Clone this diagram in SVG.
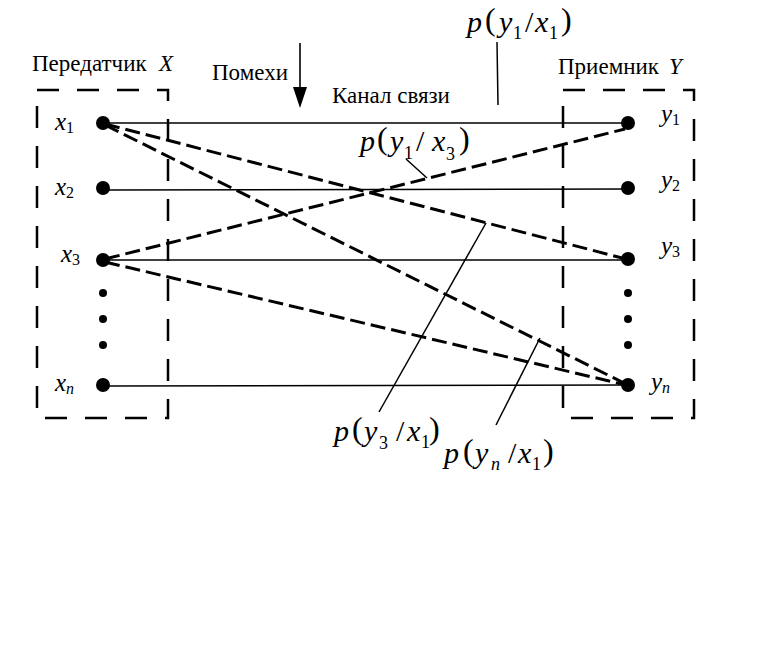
<svg xmlns="http://www.w3.org/2000/svg" width="775" height="645" viewBox="0 0 775 645">
<style>
.t{font-family:"Liberation Serif",serif;font-size:23px;fill:#000}
.i{font-style:italic}
.m{font-family:"Liberation Serif",serif;font-size:30px;fill:#000}
.par{font-family:"Liberation Serif",serif;font-size:32px;fill:#000}
.sub{font-family:"Liberation Serif",serif;font-size:18px;fill:#000}
.nl{font-family:"Liberation Serif",serif;font-size:25px;font-style:italic;fill:#000}
.ns{font-family:"Liberation Serif",serif;font-size:16px;fill:#000}
.box{fill:none;stroke:#000;stroke-width:2.5;stroke-dasharray:22 18}
.solid{stroke:#000;stroke-width:1.6;fill:none}
.dash{stroke:#000;stroke-width:3;stroke-dasharray:15 6;fill:none}
.lead{stroke:#000;stroke-width:1.5;fill:none}
</style>
<rect width="775" height="645" fill="#fff"/>
<g id="transmitter">
<rect class="box" x="37" y="90" width="131" height="328"/>
<text class="t" x="32" y="71">Передатчик<tspan class="i" x="159">X</tspan></text>
</g>
<g id="receiver">
<rect class="box" x="563" y="90" width="131" height="328"/>
<text class="t" x="558" y="74">Приемник<tspan class="i" x="669">Y</tspan></text>
</g>
<g id="noise">
<text class="t" x="212" y="80">Помехи</text>
<line x1="300" y1="43" x2="300" y2="90" class="solid"/>
<polygon points="293,87 307,87 300,108" fill="#000"/>
</g>
<g id="channel-label">
<text class="t" x="332" y="103">Канал связи</text>
</g>
<g id="connectors">
<line class="solid" x1="103" y1="123" x2="628" y2="123"/>
<line class="solid" x1="103" y1="190" x2="628" y2="189"/>
<line class="solid" x1="103" y1="260" x2="628" y2="260"/>
<line class="solid" x1="103" y1="386" x2="628" y2="385"/>
<line class="dash" x1="105" y1="124" x2="626" y2="259"/>
<line class="dash" x1="105" y1="125" x2="626" y2="384"/>
<line class="dash" x1="105" y1="259" x2="625" y2="129"/>
<line class="dash" x1="105" y1="262" x2="626" y2="385"/>
<line class="lead" x1="497" y1="42" x2="498" y2="105"/>
<line class="lead" x1="406" y1="159" x2="427" y2="178"/>
<line class="lead" x1="486" y1="223" x2="379" y2="412"/>
<line class="lead" x1="540" y1="338" x2="496" y2="425"/>
</g>
<g id="x-nodes">
<circle cx="103" cy="123" r="7"/>
<circle cx="103" cy="188" r="7"/>
<circle cx="103" cy="260" r="7"/>
<circle cx="103" cy="293" r="4"/>
<circle cx="103" cy="319" r="4"/>
<circle cx="103" cy="345" r="4"/>
<circle cx="103" cy="385" r="7"/>
<text class="nl" x="55" y="130">x<tspan class="ns" font-style="normal" dy="3">1</tspan></text>
<text class="nl" x="55" y="195">x<tspan class="ns" font-style="normal" dy="3">2</tspan></text>
<text class="nl" x="61" y="262">x<tspan class="ns" font-style="normal" dy="3">3</tspan></text>
<text class="nl" x="55" y="391">x<tspan class="ns" dy="3">n</tspan></text>
</g>
<g id="y-nodes">
<circle cx="628" cy="123" r="7"/>
<circle cx="628" cy="188" r="7"/>
<circle cx="628" cy="259" r="7"/>
<circle cx="628" cy="293" r="4"/>
<circle cx="628" cy="319" r="4"/>
<circle cx="628" cy="345" r="4"/>
<circle cx="628" cy="385" r="7"/>
<text class="nl" x="661" y="122">y<tspan class="ns" font-style="normal" dy="3">1</tspan></text>
<text class="nl" x="661" y="188">y<tspan class="ns" font-style="normal" dy="3">2</tspan></text>
<text class="nl" x="661" y="254">y<tspan class="ns" font-style="normal" dy="3">3</tspan></text>
<text class="nl" x="651" y="390">y<tspan class="ns" dy="3">n</tspan></text>
</g>
<g id="label-p-y1-x1">
<text class="m i" x="467" y="32">p</text>
<text class="par" x="485" y="30">(</text>
<text class="m i" x="499" y="32">y</text>
<text class="sub" x="513" y="39">1</text>
<text class="m" x="525" y="32">/</text>
<text class="m i" x="535" y="32">x</text>
<text class="sub" x="549" y="39">1</text>
<text class="par" x="561" y="30">)</text>
</g>
<g id="label-p-y1-x3">
<text class="m i" x="360" y="151">p</text>
<text class="par" x="377" y="149">(</text>
<text class="m i" x="390" y="151">y</text>
<text class="sub" x="404" y="159">1</text>
<text class="m" x="416" y="151">/</text>
<text class="m i" x="432" y="151">x</text>
<text class="sub" x="446" y="160">3</text>
<text class="par" x="459" y="149">)</text>
</g>
<g id="label-p-y3-x1">
<text class="m i" x="334" y="441">p</text>
<text class="par" x="352" y="439">(</text>
<text class="m i" x="364" y="441">y</text>
<text class="sub" x="379" y="449">3</text>
<text class="m" x="396" y="441">/</text>
<text class="m i" x="407" y="441">x</text>
<text class="sub" x="421" y="448">1</text>
<text class="par" x="429" y="439">)</text>
</g>
<g id="label-p-yn-x1">
<text class="m i" x="444" y="463">p</text>
<text class="par" x="463" y="461">(</text>
<text class="m i" x="475" y="463">y</text>
<text class="sub i" x="491" y="470">n</text>
<text class="m" x="508" y="463">/</text>
<text class="m i" x="518" y="463">x</text>
<text class="sub" x="532" y="470">1</text>
<text class="par" x="543" y="461">)</text>
</g>
</svg>
